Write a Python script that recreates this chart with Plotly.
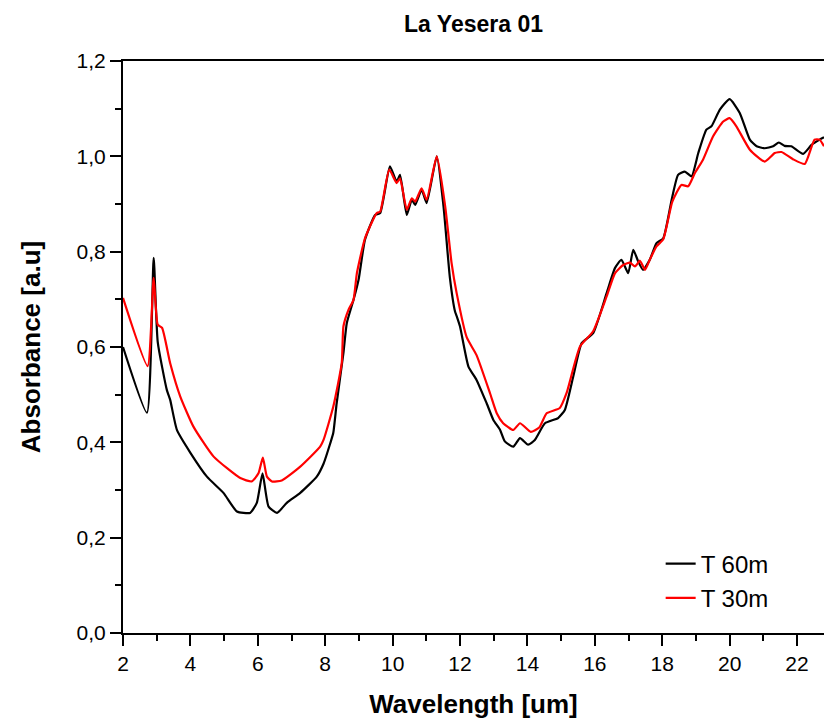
import plotly.graph_objects as go

# T 60m (black)
x60 = [2.00, 2.71, 2.91, 3.03, 3.30, 3.40, 3.60, 4.00, 4.49, 4.98, 5.38, 5.77, 5.97, 6.14, 6.32,
       6.57, 6.86, 7.26, 7.75, 7.95, 8.15, 8.24, 8.34, 8.54, 8.64, 8.84, 8.99, 9.18, 9.48, 9.63,
       9.92, 10.12, 10.22, 10.42, 10.57, 10.67, 10.86, 11.01, 11.31, 11.51, 11.70, 11.85, 11.90,
       12.00, 12.25, 12.49, 12.79, 12.99, 13.19, 13.33, 13.58, 13.78, 14.02, 14.22, 14.52, 14.91,
       15.11, 15.36, 15.61, 15.95, 16.35, 16.60, 16.79, 16.99, 17.14, 17.29, 17.43, 17.63, 17.83,
       18.03, 18.28, 18.47, 18.67, 18.87, 19.07, 19.31, 19.46, 19.71, 20.00, 20.30, 20.60, 20.80,
       21.04, 21.29, 21.46, 21.63, 21.83, 22.18, 22.43, 22.67, 22.80]
y60 = [0.600, 0.462, 0.787, 0.611, 0.510, 0.489, 0.426, 0.378, 0.328, 0.294, 0.255, 0.252, 0.273,
       0.335, 0.265, 0.252, 0.273, 0.294, 0.328, 0.355, 0.398, 0.420, 0.482, 0.587, 0.650, 0.699,
       0.741, 0.825, 0.877, 0.881, 0.979, 0.947, 0.961, 0.877, 0.909, 0.898, 0.930, 0.902, 1.000,
       0.895, 0.745, 0.675, 0.665, 0.643, 0.559, 0.531, 0.482, 0.447, 0.426, 0.402, 0.391, 0.409,
       0.395, 0.405, 0.440, 0.451, 0.468, 0.538, 0.608, 0.629, 0.713, 0.766, 0.783, 0.755, 0.804,
       0.779, 0.762, 0.783, 0.818, 0.828, 0.909, 0.961, 0.968, 0.958, 1.007, 1.056, 1.063, 1.098,
       1.120, 1.091, 1.035, 1.021, 1.017, 1.021, 1.029, 1.022, 1.021, 1.005, 1.024, 1.035, 1.040]

# T 30m (red)
x30 = [2.00, 2.73, 2.91, 3.03, 3.16, 3.40, 3.70, 4.09, 4.69, 5.48, 5.82, 6.02, 6.15, 6.27, 6.42,
       6.71, 7.26, 7.85, 7.95, 8.24, 8.49, 8.54, 8.69, 8.84, 8.94, 9.18, 9.53, 9.63, 9.90, 10.12,
       10.22, 10.42, 10.57, 10.67, 10.86, 11.01, 11.31, 11.56, 11.75, 11.90, 12.20, 12.49, 12.89,
       13.09, 13.28, 13.58, 13.78, 14.10, 14.35, 14.57, 14.96, 15.16, 15.56, 15.95, 16.35, 16.60,
       16.84, 17.04, 17.19, 17.34, 17.49, 17.63, 17.83, 18.03, 18.30, 18.57, 18.77, 18.97, 19.21,
       19.51, 19.81, 20.00, 20.20, 20.60, 21.04, 21.34, 21.54, 21.88, 22.23, 22.52, 22.67, 22.80]
y30 = [0.703, 0.560, 0.745, 0.647, 0.640, 0.566, 0.496, 0.433, 0.370, 0.325, 0.318, 0.335, 0.368,
       0.328, 0.318, 0.320, 0.349, 0.391, 0.405, 0.475, 0.566, 0.643, 0.678, 0.699, 0.755, 0.828,
       0.881, 0.884, 0.972, 0.944, 0.954, 0.888, 0.912, 0.905, 0.933, 0.909, 1.000, 0.895, 0.776,
       0.713, 0.620, 0.583, 0.503, 0.461, 0.440, 0.426, 0.440, 0.422, 0.431, 0.461, 0.472, 0.503,
       0.601, 0.633, 0.706, 0.755, 0.772, 0.777, 0.769, 0.781, 0.762, 0.783, 0.811, 0.826, 0.905,
       0.940, 0.937, 0.965, 0.993, 1.042, 1.073, 1.080, 1.063, 1.014, 0.989, 1.007, 1.009, 0.994,
       0.984, 1.035, 1.035, 1.021]

xticks = [2, 4, 6, 8, 10, 12, 14, 16, 18, 20, 22]
yticks = [0.0, 0.2, 0.4, 0.6, 0.8, 1.0, 1.2]
ytick_text = ["0,0", "0,2", "0,4", "0,6", "0,8", "1,0", "1,2"]

FONT = "Liberation Sans, Arial, sans-serif"

fig = go.Figure()
fig.add_trace(go.Scatter(x=x60, y=y60, mode="lines", name="T 60m",
                         line=dict(color="black", width=2.2, shape="spline", smoothing=0.5)))
fig.add_trace(go.Scatter(x=x30, y=y30, mode="lines", name="T 30m",
                         line=dict(color="#ff0000", width=2.2, shape="spline", smoothing=0.5)))

fig.update_layout(
    width=824, height=719,
    margin=dict(l=123, r=0, t=61, b=86),
    paper_bgcolor="white", plot_bgcolor="white",
    font=dict(family=FONT, color="black"),
    title=dict(text="<b>La Yesera 01</b>", x=0.5, xref="paper", xanchor="center",
               y=0.978, yref="container", font=dict(size=23, family=FONT)),
    showlegend=True,
    legend=dict(x=0.767, y=0.16, xanchor="left", yanchor="top",
                font=dict(size=24, family=FONT), bgcolor="rgba(0,0,0,0)",
                tracegroupgap=0, itemwidth=30),
)
fig.update_xaxes(
    range=[2, 22.8], showgrid=False, zeroline=False,
    showline=True, linecolor="black", linewidth=2, mirror=True,
    ticks="outside", ticklen=11, tickwidth=2, tickcolor="black",
    tickvals=xticks, ticktext=[str(v) for v in xticks],
    tickfont=dict(size=21, family=FONT),
    minor=dict(ticks="outside", ticklen=6, tickwidth=2, tickcolor="black", dtick=1, tick0=0),
    title=dict(text="<b>Wavelength [um]</b>", font=dict(size=26, family=FONT), standoff=22),
)
fig.update_yaxes(
    range=[0, 1.2], showgrid=False, zeroline=False,
    showline=True, linecolor="black", linewidth=2,
    ticks="outside", ticklen=11, tickwidth=2, tickcolor="black",
    tickvals=yticks, ticktext=ytick_text,
    tickfont=dict(size=21, family=FONT),
    minor=dict(ticks="outside", ticklen=6, tickwidth=2, tickcolor="black", dtick=0.1, tick0=0),
    title=dict(text="<b>Absorbance [a.u]</b>", font=dict(size=26, family=FONT), standoff=28),
)

fig.write_html("out.html")
